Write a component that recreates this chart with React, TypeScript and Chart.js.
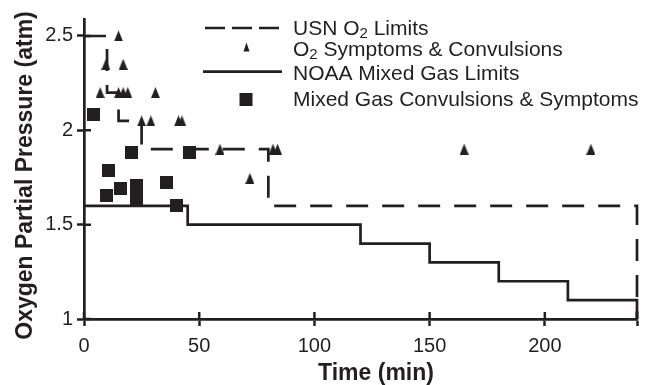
import React, { useEffect, useRef } from 'react';
import { Chart, registerables } from 'chart.js';

Chart.register(...registerables);

const INK = '#231f20';
const FONT = '"Liberation Sans", Arial, Helvetica, sans-serif';

// Axis ticks
const xTickValues = [0, 50, 100, 150, 200, 240];
const xTickLabels = ['0', '50', '100', '150', '200', ''];
const yTickValues = [1, 1.5, 2, 2.5];
const yTickLabels = ['1', '1.5', '2', '2.5'];

// USN O2 limits (step line: value holds until next time)
const usnTime = [0, 10, 15, 25, 80, 240];
const usnPO2 = [2.5, 2.2, 2.05, 1.9, 1.6, 1.0];

// NOAA mixed gas limits
const noaaTime = [0, 45, 120, 150, 180, 210, 240];
const noaaPO2 = [1.6, 1.5, 1.4, 1.3, 1.2, 1.1, 1.0];

// O2 symptoms & convulsions
const o2Time = [15, 9.5, 17, 7, 15, 17, 19, 31, 25, 29, 41, 42.5, 59, 82, 84, 72, 165, 220];
const o2PO2 = [2.5, 2.35, 2.35, 2.2, 2.2, 2.2, 2.2, 2.2, 2.05, 2.05, 2.05, 2.05, 1.9, 1.9, 1.9, 1.745, 1.9, 1.9];

// Mixed gas convulsions & symptoms
const mgTime = [4.3, 20.5, 46, 10.5, 36, 16, 23, 23, 9.6, 40];
const mgPO2 = [2.085, 1.885, 1.885, 1.788, 1.726, 1.692, 1.709, 1.639, 1.656, 1.603];

const zip = (xs: number[], ys: number[]) => xs.map((x, i) => ({ x, y: ys[i] }));

function makeTriangle(w: number, h: number) {
  const c = document.createElement('canvas');
  c.width = w;
  c.height = h;
  const g = c.getContext('2d')!;
  g.fillStyle = INK;
  g.beginPath();
  g.moveTo(w / 2, 0);
  g.lineTo(w, h);
  g.lineTo(0, h);
  g.closePath();
  g.fill();
  return c;
}

function makeSquare(s: number) {
  const c = document.createElement('canvas');
  c.width = s;
  c.height = s;
  const g = c.getContext('2d')!;
  g.fillStyle = INK;
  g.fillRect(0, 0, s, s);
  return c;
}

function drawSubText(ctx: CanvasRenderingContext2D, parts: [string, boolean][], x: number, y: number) {
  let cx = x;
  for (const [t, sub] of parts) {
    ctx.font = sub ? `15px ${FONT}` : `21px ${FONT}`;
    ctx.fillText(t, cx, sub ? y + 2.5 : y);
    cx += ctx.measureText(t).width;
  }
}

const legendPlugin = {
  id: 'customLegend',
  afterDraw(chart: any) {
    const ctx: CanvasRenderingContext2D = chart.ctx;
    ctx.save();
    ctx.fillStyle = INK;
    ctx.strokeStyle = INK;
    ctx.textAlign = 'left';
    ctx.textBaseline = 'alphabetic';
    ctx.lineWidth = 2.7;
    ctx.lineCap = 'butt';
    // Line 1: dashed
    ctx.setLineDash([20, 7]);
    ctx.beginPath();
    ctx.moveTo(205, 28);
    ctx.lineTo(282, 28);
    ctx.stroke();
    ctx.setLineDash([]);
    drawSubText(ctx, [['USN O', false], ['2', true], [' Limits', false]], 293, 35);
    // Line 2: triangle
    ctx.beginPath();
    ctx.moveTo(246.5, 42.5);
    ctx.lineTo(249.5, 51.5);
    ctx.lineTo(243.5, 51.5);
    ctx.closePath();
    ctx.fill();
    drawSubText(ctx, [['O', false], ['2', true], [' Symptoms & Convulsions', false]], 293, 56);
    // Line 3: solid
    ctx.beginPath();
    ctx.moveTo(203, 71.7);
    ctx.lineTo(282, 71.7);
    ctx.stroke();
    drawSubText(ctx, [['NOAA Mixed Gas Limits', false]], 293, 80);
    // Line 4: square
    ctx.fillRect(239.5, 93, 13, 13);
    drawSubText(ctx, [['Mixed Gas Convulsions & Symptoms', false]], 293, 106);
    ctx.restore();
  },
};

const titlesAndTicksPlugin = {
  id: 'titlesAndTicks',
  afterDraw(chart: any) {
    const ctx: CanvasRenderingContext2D = chart.ctx;
    const { left, bottom } = chart.chartArea;
    const xs = chart.scales.x;
    const ys = chart.scales.y;
    ctx.save();
    ctx.strokeStyle = INK;
    ctx.lineWidth = 2.5;
    ctx.beginPath();
    for (const v of xTickValues) {
      const px = xs.getPixelForValue(v);
      ctx.moveTo(px, bottom);
      ctx.lineTo(px, bottom - 7);
    }
    for (const v of yTickValues) {
      const py = ys.getPixelForValue(v);
      ctx.moveTo(left, py);
      ctx.lineTo(left + 7, py);
    }
    ctx.stroke();

    ctx.fillStyle = INK;
    ctx.font = `bold 23px ${FONT}`;
    ctx.textAlign = 'center';
    ctx.textBaseline = 'alphabetic';
    ctx.fillText('Time (min)', 376, 379.5);
    ctx.translate(31.5, 175.5);
    ctx.rotate(-Math.PI / 2);
    ctx.fillText('Oxygen Partial Pressure (atm)', 0, 0);
    ctx.restore();
  },
};

export default function App() {
  const canvasRef = useRef<HTMLCanvasElement | null>(null);

  useEffect(() => {
    if (!canvasRef.current) return;
    const tri = makeTriangle(9, 11);
    const sq = makeSquare(13);

    const chart = new Chart(canvasRef.current, {
      type: 'scatter',
      data: {
        datasets: [
          {
            label: 'O2 Symptoms & Convulsions',
            data: zip(o2Time, o2PO2),
            pointStyle: tri as any,
            pointRadius: 6,
            showLine: false,
            order: 0,
            clip: false as any,
          },
          {
            label: 'Mixed Gas Convulsions & Symptoms',
            data: zip(mgTime, mgPO2),
            pointStyle: sq as any,
            pointRadius: 7,
            showLine: false,
            order: 0,
            clip: false as any,
          },
          {
            label: 'USN O2 Limits',
            data: zip(usnTime, usnPO2),
            showLine: true,
            stepped: true,
            borderColor: INK,
            borderWidth: 2.7,
            borderDash: [22, 14],
            borderCapStyle: 'butt',
            pointRadius: 0,
            order: 1,
            clip: false as any,
          },
          {
            label: 'NOAA Mixed Gas Limits',
            data: zip(noaaTime, noaaPO2),
            showLine: true,
            stepped: true,
            borderColor: INK,
            borderWidth: 2.7,
            pointRadius: 0,
            order: 1,
            clip: false as any,
          },
        ],
      },
      options: {
        responsive: false,
        animation: false,
        events: [],
        layout: { padding: { top: 19, right: 6, left: 0, bottom: 0 } },
        plugins: {
          legend: { display: false },
          tooltip: { enabled: false },
          title: { display: false },
        },
        scales: {
          x: {
            type: 'linear',
            min: 0,
            max: 240,
            afterBuildTicks: (scale: any) => {
              scale.ticks = xTickValues.map((v) => ({ value: v }));
            },
            afterFit: (scale: any) => {
              scale.height = 66;
            },
            ticks: {
              autoSkip: false,
              maxRotation: 0,
              padding: 8,
              color: INK,
              font: { family: FONT, size: 20 },
              callback: (value: any) => {
                const i = xTickValues.indexOf(Number(value));
                return i >= 0 ? xTickLabels[i] : '';
              },
            },
            grid: {
              drawOnChartArea: false,
              drawTicks: true,
              tickLength: 7,
              tickWidth: 2.5,
              tickColor: INK,
            },
            border: { display: true, color: INK, width: 2.7 },
          },
          y: {
            type: 'linear',
            min: 1,
            max: 2.59,
            afterBuildTicks: (scale: any) => {
              scale.ticks = yTickValues.map((v) => ({ value: v }));
            },
            afterFit: (scale: any) => {
              scale.width = 84;
            },
            ticks: {
              autoSkip: false,
              padding: 4,
              color: INK,
              font: { family: FONT, size: 20 },
              callback: (value: any) => {
                const i = yTickValues.indexOf(Number(value));
                return i >= 0 ? yTickLabels[i] : '';
              },
            },
            grid: {
              drawOnChartArea: false,
              drawTicks: true,
              tickLength: 7,
              tickWidth: 2.5,
              tickColor: INK,
            },
            border: { display: true, color: INK, width: 2.7 },
          },
        },
      },
      plugins: [legendPlugin, titlesAndTicksPlugin],
    });

    return () => {
      chart.destroy();
    };
  }, []);

  return (
    <div style={{ position: 'absolute', left: 0, top: 0, width: 645, height: 385, background: '#fff' }}>
      <canvas ref={canvasRef} width={645} height={385} style={{ display: 'block' }} />
    </div>
  );
}
